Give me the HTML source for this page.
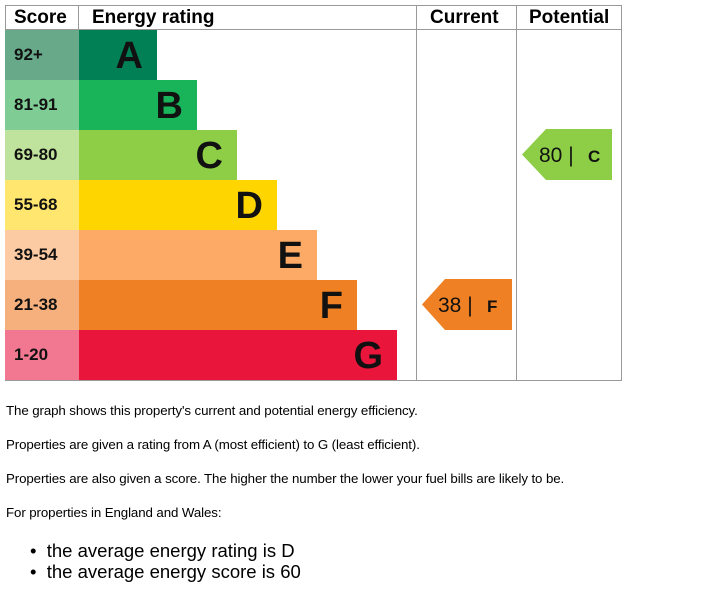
<!DOCTYPE html>
<html><head><style>
body{margin:0;width:722px;height:591px;background:#fff;font-family:"Liberation Sans",Arial,sans-serif;position:relative;overflow:hidden}
.a{position:absolute}
.h{font-weight:bold;font-size:19px;top:7px}
.sc{position:absolute;left:5px;width:74px;height:50px;font-weight:bold;font-size:17px;line-height:50px;text-indent:9px;color:#111}
.bar{position:absolute;left:79px;height:50px;font-weight:bold;font-size:38px;line-height:52px;text-align:right;color:#111;box-sizing:border-box;padding-right:14px}
.p{position:absolute;left:6px;font-size:13.3px;color:#000;letter-spacing:-0.1px}
</style></head><body>
<div class="a" style="left:5px;top:5px;width:615px;height:374px;border:1px solid #999"></div>
<div class="a" style="left:5px;top:29px;width:616px;height:1px;background:#999"></div>
<div class="a" style="left:78px;top:5px;width:1px;height:25px;background:#999"></div>
<div class="a" style="left:416px;top:5px;width:1px;height:375px;background:#999"></div>
<div class="a" style="left:516px;top:5px;width:1px;height:375px;background:#999"></div>
<div class="a h" style="left:14px">Score</div>
<div class="a h" style="left:92px">Energy rating</div>
<div class="a h" style="left:430px">Current</div>
<div class="a h" style="left:529px">Potential</div>

<div class="sc" style="top:30px;background:#68a98a">92+</div>
<div class="sc" style="top:80px;background:#7fcd95">81-91</div>
<div class="sc" style="top:130px;background:#bfe39c">69-80</div>
<div class="sc" style="top:180px;background:#ffe76f">55-68</div>
<div class="sc" style="top:230px;background:#fdcba3">39-54</div>
<div class="sc" style="top:280px;background:#f5b07d">21-38</div>
<div class="sc" style="top:330px;background:#f27891">1-20</div>

<div class="bar" style="top:30px;width:78px;background:#008054">A</div>
<div class="bar" style="top:80px;width:118px;background:#19b459">B</div>
<div class="bar" style="top:130px;width:158px;background:#8dce46">C</div>
<div class="bar" style="top:180px;width:198px;background:#ffd500">D</div>
<div class="bar" style="top:230px;width:238px;background:#fcaa65">E</div>
<div class="bar" style="top:280px;width:278px;background:#ef8023">F</div>
<div class="bar" style="top:330px;width:318px;background:#e9153b">G</div>

<svg class="a" style="left:0;top:0" width="722" height="400">
<polygon points="422,304.5 445,279 512,279 512,330 445,330" fill="#ef8023"/>
<text x="438" y="312" font-family="Liberation Sans" font-size="21" fill="#111">38 |</text>
<text x="487" y="312" font-family="Liberation Sans" font-weight="bold" font-size="17" fill="#111">F</text>
<polygon points="522,154.5 546,129 612,129 612,180 546,180" fill="#8dce46"/>
<text x="539" y="162" font-family="Liberation Sans" font-size="21" fill="#111">80 |</text>
<text x="588" y="162" font-family="Liberation Sans" font-weight="bold" font-size="17" fill="#111">C</text>
</svg>

<div class="p" style="top:403px">The graph shows this property's current and potential energy efficiency.</div>
<div class="p" style="top:437px">Properties are given a rating from A (most efficient) to G (least efficient).</div>
<div class="p" style="top:471px">Properties are also given a score. The higher the number the lower your fuel bills are likely to be.</div>
<div class="p" style="top:505px">For properties in England and Wales:</div>
<div class="a" style="left:30px;top:540px;font-size:18.5px;line-height:21px">
<div>•&nbsp;&nbsp;the average energy rating is D</div>
<div>•&nbsp;&nbsp;the average energy score is 60</div>
</div>
</body></html>
